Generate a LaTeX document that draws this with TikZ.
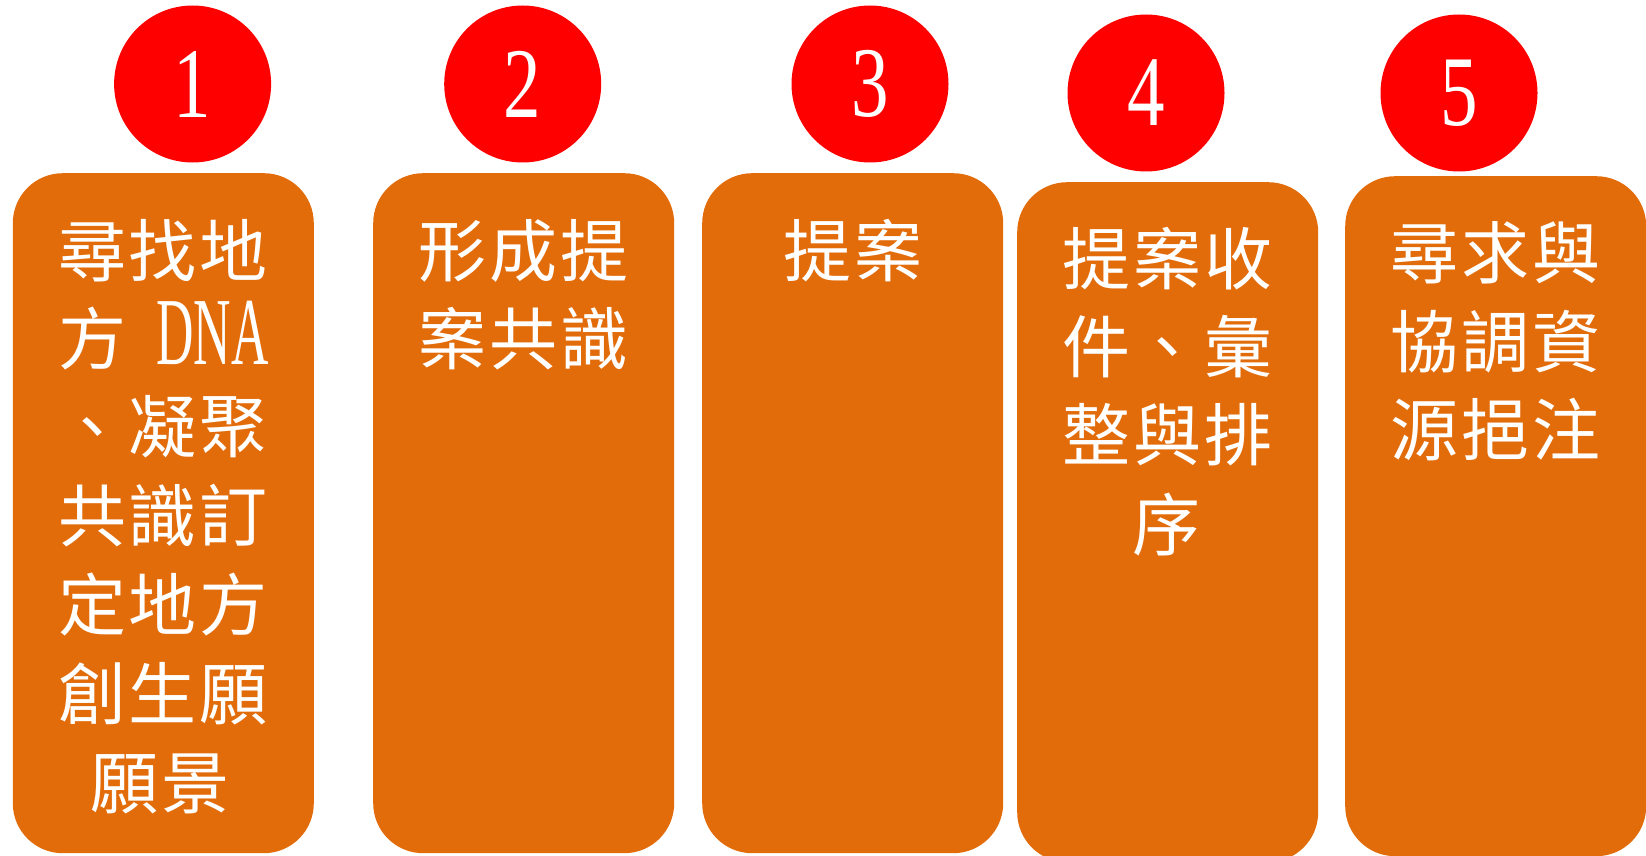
\documentclass[tikz,border=0pt]{standalone}
\usepackage{fontspec}
\newfontfamily\cjk{Noto Sans CJK TC}
\newfontfamily\serifdigits{Liberation Serif}
\definecolor{boxorange}{HTML}{E36C0A}
\definecolor{numred}{HTML}{FF0000}
\newcommand\cc[1]{\makebox[71pt]{#1}}
\newcommand\dna{\makebox[142pt][r]{\serifdigits\fontsize{96}{96}\selectfont\scalebox{0.54}[1]{DNA}\hspace*{1pt}}}
\begin{document}
\begin{tikzpicture}[x=1pt,y=-1pt,
  stepbox/.style={fill=boxorange, rounded corners=50pt, minimum width=301pt, minimum height=680pt, anchor=north west, inner sep=0pt},
  numcircle/.style={circle, fill=numred, minimum size=157pt, inner sep=0pt, text=white, font=\serifdigits\fontsize{100}{100}\selectfont},
  cjkline/.style={text=white, inner sep=0pt, text height=60pt, text depth=8pt, font=\cjk\fontsize{68}{68}\selectfont}]
\useasboundingbox (0,0) rectangle (1646,856);
\clip (0,0) rectangle (1646,856);
\fill[white] (0,0) rectangle (1646,856);
% boxes
\node[stepbox] (b1) at (12.6,173) {};
\node[stepbox] (b2) at (373,173) {};
\node[stepbox] (b3) at (702,173) {};
\node[stepbox] (b4) at (1017,182) {};
\node[stepbox] (b5) at (1345,176) {};
% circles
\node[numcircle] (c1) at (192.6,84) {\scalebox{0.75}[1]{1}};
\node[numcircle] (c2) at (522.7,84) {\scalebox{0.75}[1]{2}};
\node[numcircle] (c3) at (870,84) {\scalebox{0.75}[1]{3}};
\node[numcircle] (c4) at (1146,93) {\scalebox{0.75}[1]{4}};
\node[numcircle] (c5) at (1459,93) {\scalebox{0.75}[1]{5}};
% box 1 text
\node[cjkline] (t11) at (163,250) {\cc{尋}\cc{找}\cc{地}};
\node[cjkline] (t12) at (163,338) {\cc{方}\dna};
\node[cjkline] (t13) at (163,426) {\cc{、}\cc{凝}\cc{聚}};
\node[cjkline] (t14) at (163,515) {\cc{共}\cc{識}\cc{訂}};
\node[cjkline] (t15) at (163,604) {\cc{定}\cc{地}\cc{方}};
\node[cjkline] (t16) at (163,693) {\cc{創}\cc{生}\cc{願}};
\node[cjkline] (t17) at (160,782) {\cc{願}\cc{景}};
% box 2 text
\node[cjkline] (t21) at (523.5,250) {\cc{形}\cc{成}\cc{提}};
\node[cjkline] (t22) at (523.5,338) {\cc{案}\cc{共}\cc{識}};
% box 3 text
\node[cjkline] (t31) at (852.5,250) {\cc{提}\cc{案}};
% box 4 text
\node[cjkline] (t41) at (1167.5,258) {\cc{提}\cc{案}\cc{收}};
\node[cjkline] (t42) at (1167.5,346) {\cc{件}\cc{、}\cc{彙}};
\node[cjkline] (t43) at (1167.5,434) {\cc{整}\cc{與}\cc{排}};
\node[cjkline] (t44) at (1166,524) {\cc{序}};
% box 5 text
\node[cjkline] (t51) at (1495.5,252) {\cc{尋}\cc{求}\cc{與}};
\node[cjkline] (t52) at (1495.5,341) {\cc{協}\cc{調}\cc{資}};
\node[cjkline] (t53) at (1495.5,429) {\cc{源}\cc{挹}\cc{注}};
\end{tikzpicture}
\end{document}
